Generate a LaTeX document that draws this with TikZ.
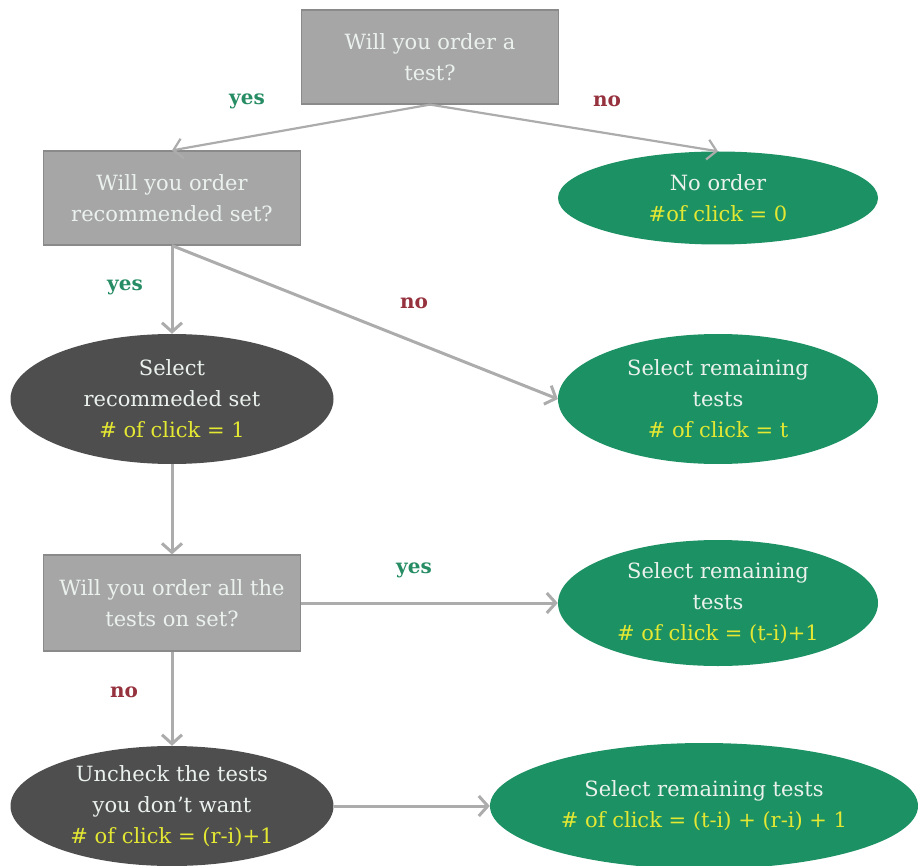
\documentclass[tikz,border=0pt]{standalone}
\usepackage{fontspec}
\setmainfont{DejaVu Serif}
\definecolor{qgray}{RGB}{166,166,166}
\definecolor{qedge}{RGB}{138,138,138}
\definecolor{flgreen}{RGB}{28,145,100}
\definecolor{fldark}{RGB}{78,78,78}
\definecolor{fltext}{RGB}{235,242,238}
\definecolor{clickyellow}{RGB}{228,232,50}
\definecolor{yesgreen}{RGB}{38,140,100}
\definecolor{nored}{RGB}{150,50,62}
\definecolor{linkgray}{RGB}{172,172,172}
\usetikzlibrary{arrows.meta,shapes.geometric}

\begin{document}
\begin{tikzpicture}[x=1pt, y=-1pt,
    question/.style={rectangle, fill=qgray, draw=qedge, line width=1.2pt, minimum width=257pt,
      minimum height=94pt, align=center, text=fltext, font=\fontsize{21}{31}\selectfont},
    outcome/.style={ellipse, inner sep=0pt, minimum width=320pt, minimum height=130pt,
      align=center, text=fltext, font=\fontsize{21}{31}\selectfont},
    link/.style={draw=linkgray, line width=3pt, -{Straight Barb[length=9pt,width=20pt]}},
    answer/.style={font=\fontsize{20}{24}\selectfont\bfseries}
  ]
    \useasboundingbox (0,0) rectangle (918,866);
    \node[question] (q1) at (430,57)  {Will you order a\\test?};
    \node[question] (q2) at (172,198) {Will you order\\recommended set?};
    \node[outcome, fill=flgreen, minimum height=93pt] (na) at (718,198)
      {No order\\\textcolor{clickyellow}{\#of click = 0}};
    \node[outcome, fill=fldark, minimum width=323pt] (rs) at (172,399)
      {Select\\recommeded set\\\textcolor{clickyellow}{\# of click = 1}};
    \node[outcome, fill=flgreen] (rt) at (718,399)
      {Select remaining\\tests\\\textcolor{clickyellow}{\# of click = t}};
    \node[question, minimum height=96pt] (q3) at (172,603) {Will you order all the\\tests on set?};
    \node[outcome, fill=flgreen, minimum height=126pt] (ri) at (718,603)
      {Select remaining\\tests\\\textcolor{clickyellow}{\# of click = (t-i)+1}};
    \node[outcome, fill=fldark, minimum width=323pt, minimum height=120pt] (un) at (172,806)
      {Uncheck the tests\\you don’t want\\\textcolor{clickyellow}{\# of click = (r-i)+1}};
    \node[outcome, fill=flgreen, minimum width=428pt, minimum height=126pt] (rb) at (704,806)
      {Select remaining tests\\\textcolor{clickyellow}{\# of click = (t-i) + (r-i) + 1}};
    % yes / no labels
    \node[answer, text=yesgreen] (y1) at (247,101) {yes};
    \node[answer, text=nored]    (n1) at (607,101) {no};
    \node[answer, text=yesgreen] (y2) at (125,287) {yes};
    \node[answer, text=nored]    (n2) at (414,303) {no};
    \node[answer, text=yesgreen] (y3) at (414,570) {yes};
    \node[answer, text=nored]    (n3) at (124,692) {no};
    % connectors
    \draw[link, line width=2.2pt] (q1.south) -- (q2.north);
    \draw[link, line width=2.2pt] (q1.south) -- (na.north);
    \draw[link] (q2.south) -- (rs.north);
    \draw[link] (q2.south) -- (rt.west);
    \draw[link] (rs.south) -- (q3.north);
    \draw[link] (q3.east) -- (ri.west);
    \draw[link] (q3.south) -- (un.north);
    \draw[link] (un.east) -- (rb.west);
  \end{tikzpicture}
\end{document}
